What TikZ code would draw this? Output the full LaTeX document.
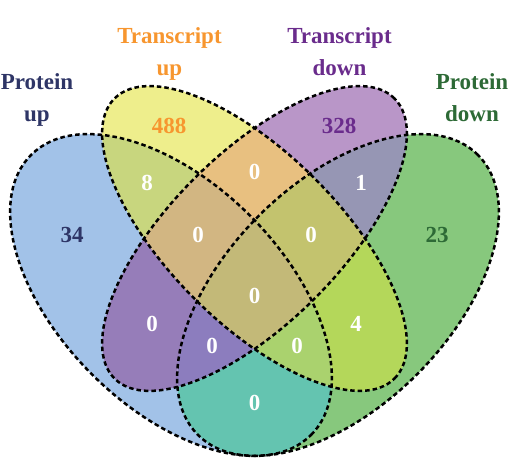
\documentclass[tikz,border=0pt]{standalone}
\usepackage{fontspec}
\setmainfont{Liberation Serif}
\begin{document}
\begin{tikzpicture}[x=1pt,y=1pt,
  border/.style={draw=black, line width=2.5pt, dash pattern=on 4.5pt off 3pt},
  lab/.style={font=\fontsize{23}{32}\selectfont\bfseries, align=center, inner sep=0pt, anchor=north},
  num/.style={font=\fontsize{23}{26}\selectfont\bfseries, inner sep=0pt, text=white},
  rA/.style={rotate around={-45:(171,179)}},
  rB/.style={rotate around={-45:(254.5,235.5)}},
  rC/.style={rotate around={45:(254.5,235.5)}},
  rD/.style={rotate around={45:(338,179)}}]
\definecolor{cA}{HTML}{A2C2E8}
\definecolor{cB}{HTML}{EEEE8C}
\definecolor{cC}{HTML}{B996C8}
\definecolor{cD}{HTML}{87C87D}
\definecolor{cAB}{HTML}{C8D67E}
\definecolor{cBC}{HTML}{E8C080}
\definecolor{cCD}{HTML}{9696B4}
\definecolor{cABC}{HTML}{D2B682}
\definecolor{cBCD}{HTML}{C3C36E}
\definecolor{cABCD}{HTML}{C3B978}
\definecolor{cAC}{HTML}{967DB9}
\definecolor{cACD}{HTML}{8C7DBE}
\definecolor{cABD}{HTML}{AAD26E}
\definecolor{cBD}{HTML}{B4D75A}
\definecolor{cAD}{HTML}{64C4B0}
\definecolor{tA}{HTML}{2E3566}
\definecolor{tB}{HTML}{F7962F}
\definecolor{tC}{HTML}{6A2C8C}
\definecolor{tD}{HTML}{2D6A36}
\useasboundingbox (0,0) rectangle (509,474);
\newcommand\inA{\path[clip, rA] (171,179) ellipse (198pt and 112pt);}
\newcommand\outA{\path[clip, rA] (-900,-900) rectangle (1400,1400) (171,179) ellipse (198pt and 112pt);}
\newcommand\inB{\path[clip, rB] (254.5,235.5) ellipse (198pt and 85pt);}
\newcommand\outB{\path[clip, rB] (-900,-900) rectangle (1400,1400) (254.5,235.5) ellipse (198pt and 85pt);}
\newcommand\inC{\path[clip, rC] (254.5,235.5) ellipse (198pt and 85pt);}
\newcommand\outC{\path[clip, rC] (-900,-900) rectangle (1400,1400) (254.5,235.5) ellipse (198pt and 85pt);}
\newcommand\inD{\path[clip, rD] (338,179) ellipse (198pt and 112pt);}
\newcommand\outD{\path[clip, rD] (-900,-900) rectangle (1400,1400) (338,179) ellipse (198pt and 112pt);}
\newcommand\region[2]{\begin{scope}\pgfseteorule#1\fill[#2] (-10,-10) rectangle (520,484);\end{scope}}
\region{\inA\outB\outC\outD}{cA}
\region{\outA\inB\outC\outD}{cB}
\region{\outA\outB\inC\outD}{cC}
\region{\outA\outB\outC\inD}{cD}
\region{\inA\inB\outC\outD}{cAB}
\region{\outA\inB\inC\outD}{cBC}
\region{\outA\outB\inC\inD}{cCD}
\region{\inA\outB\inC\outD}{cAC}
\region{\inA\outB\outC\inD}{cAD}
\region{\outA\inB\outC\inD}{cBD}
\region{\inA\inB\inC\outD}{cABC}
\region{\outA\inB\inC\inD}{cBCD}
\region{\inA\outB\inC\inD}{cACD}
\region{\inA\inB\outC\inD}{cABD}
\region{\inA\inB\inC\inD}{cABCD}
\draw[border, rA] (171,179) ellipse (198pt and 112pt);
\draw[border, rB] (254.5,235.5) ellipse (198pt and 85pt);
\draw[border, rC] (254.5,235.5) ellipse (198pt and 85pt);
\draw[border, rD] (338,179) ellipse (198pt and 112pt);
\node[lab, text=tA] (labA) at (37,401) {Protein\\up};
\node[lab, text=tB] (labB) at (169.5,447) {Transcript\\up};
\node[lab, text=tC] (labC) at (339.5,447) {Transcript\\down};
\node[lab, text=tD] (labD) at (472,401) {Protein\\down};
\node[num, text=tA] (nA) at (72,239) {34};
\node[num, text=tB] (nB) at (169,348) {488};
\node[num, text=tC] (nC) at (339,348) {328};
\node[num, text=tD] (nD) at (437,239) {23};
\node[num] (nAB) at (147,291) {8};
\node[num] (nBC) at (254.5,302) {0};
\node[num] (nCD) at (361,291) {1};
\node[num] (nABC) at (198,239) {0};
\node[num] (nBCD) at (311,239) {0};
\node[num] (nABCD) at (254.5,178) {0};
\node[num] (nAC) at (152,150) {0};
\node[num] (nACD) at (212,128) {0};
\node[num] (nABD) at (297,128) {0};
\node[num] (nBD) at (356,150) {4};
\node[num] (nAD) at (254.5,71) {0};
\end{tikzpicture}
\end{document}
